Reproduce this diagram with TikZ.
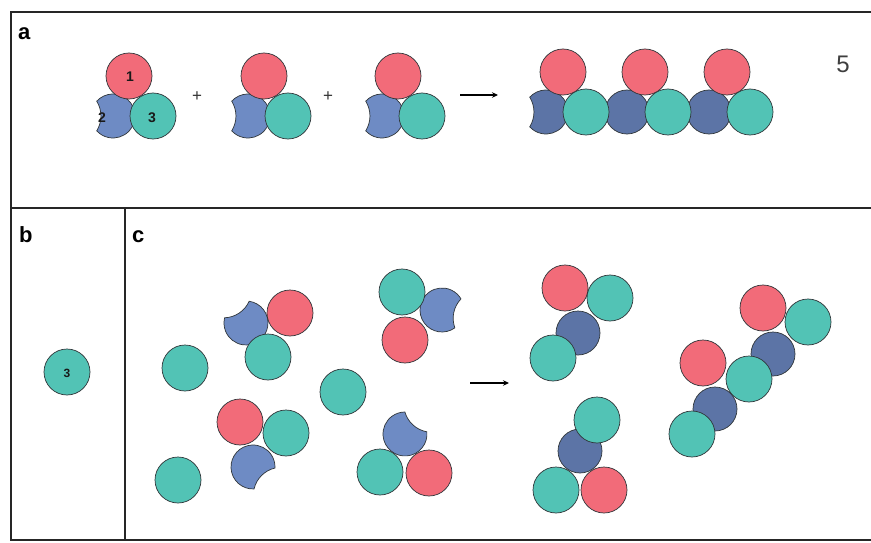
\documentclass[tikz,border=0pt]{standalone}
\usepackage{fontspec}
\setmainfont{Liberation Sans}
\usetikzlibrary{arrows.meta}

\definecolor{subred}{HTML}{F26B79}
\definecolor{subteal}{HTML}{52C3B5}
\definecolor{subblue}{HTML}{6E8BC4}
\definecolor{subbluedk}{HTML}{5C74A6}
\definecolor{rim}{HTML}{30363A}
\definecolor{framecol}{HTML}{262626}
\definecolor{numcol}{HTML}{3F3F3F}

\tikzset{
  sub/.style={draw=rim, line width=0.7pt},
  redsub/.style={sub, fill=subred},
  tealsub/.style={sub, fill=subteal},
  bluesub/.style={sub, fill=subblue},
  bluesubdk/.style={sub, fill=subbluedk},
  panelframe/.style={draw=framecol, line width=1.6pt},
  panellabel/.style={font=\fontsize{22}{22}\selectfont\bfseries, anchor=base west, inner sep=0pt},
  sublabel/.style={font=\fontsize{14}{14}\selectfont\bfseries, text=black!90, inner sep=0pt},
  plussign/.style={font=\fontsize{17}{17}\selectfont, text=black!80, inner sep=0pt},
  reactarrow/.style={draw=black, line width=1.3pt, -{Stealth[length=6pt,width=5.5pt]}},
}

% subunit 1 (red) and subunit 3 (teal): plain discs
\newcommand\redball[2]{\path[redsub] (#1,#2) circle[radius=23];}
\newcommand\tealball[2]{\path[tealsub] (#1,#2) circle[radius=23];}
% subunit 2 (blue): full disc, or disc with a bite facing direction #4
\newcommand\blueball[3][bluesub]{\path[#1] (#2,#3) circle[radius=22];}
\newcommand\bluecrescent[4][bluesub]{%
  \path[#1, shift={(#2,#3)}] (#4+42.3:22)
    arc[start angle=#4+42.3, end angle=#4+317.7, radius=22]
    arc[start angle=#4+211.9, end angle=#4+148.1, radius=28] -- cycle;}

\begin{document}
\begin{tikzpicture}[x=1pt, y=-1pt]
\useasboundingbox (0,0) rectangle (871,543);
\fill[white] (0,0) rectangle (871,543);

% ---- frame ----
\draw[panelframe] (871,12) -- (11,12) -- (11,540) -- (871,540);
\draw[panelframe] (11,208) -- (871,208);
\draw[panelframe] (125,208) -- (125,540);

\node[panellabel] (lbla) at (18,40) {a};
\node[panellabel] (lblb) at (19,242) {b};
\node[panellabel] (lblc) at (132,242) {c};

% ---- panel a: three trimers ----
\bluecrescent{113}{116}{180}
\tealball{153}{116}
\redball{129}{76}
\node[sublabel] (n1) at (130,77) {1};
\node[sublabel] (n2) at (102,118) {2};
\node[sublabel] (n3) at (152,118) {3};

\node[plussign] (plusA) at (197,97) {+};

\bluecrescent{248}{116}{180}
\tealball{288}{116}
\redball{264}{76}

\node[plussign] (plusB) at (328,97) {+};

\bluecrescent{382}{116}{180}
\tealball{422}{116}
\redball{398}{76}

\coordinate (arAs) at (460,95);
\coordinate (arAe) at (498,95);
\draw[reactarrow] (arAs) -- (arAe);

% assembled filament
\bluecrescent[bluesubdk]{546}{112}{180}
\blueball[bluesubdk]{627}{112}
\blueball[bluesubdk]{709}{112}
\tealball{586}{112}
\tealball{668}{112}
\tealball{750}{112}
\redball{563}{72}
\redball{645}{72}
\redball{727}{72}

\node[font=\fontsize{24}{24}\selectfont, text=numcol, inner sep=0pt] (fig5) at (843,64) {5};

% ---- panel b ----
\tealball{67}{372}
\node[sublabel, font=\fontsize{12}{12}\selectfont\bfseries] (nb3) at (67,373) {3};

% ---- panel c: free subunits and trimers ----
\tealball{185}{368}
\tealball{178}{480}
\tealball{343}{392}

\bluecrescent{246}{323}{236}
\tealball{268}{357}
\redball{290}{313}

\bluecrescent{253}{467}{45}
\tealball{286}{433}
\redball{240}{422}

\bluecrescent{442}{310}{12}
\tealball{402}{292}
\redball{405}{340}

\bluecrescent{405}{434}{-48}
\tealball{380}{472}
\redball{429}{473}

\coordinate (arCs) at (470,383);
\coordinate (arCe) at (509,383);
\draw[reactarrow] (arCs) -- (arCe);

% products
\blueball[bluesubdk]{578}{333}
\tealball{553}{358}
\tealball{610}{298}
\redball{565}{288}

\blueball[bluesubdk]{580}{451}
\tealball{597}{420}
\tealball{556}{490}
\redball{604}{490}

\blueball[bluesubdk]{773}{354}
\blueball[bluesubdk]{715}{409}
\tealball{808}{322}
\tealball{749}{379}
\tealball{692}{434}
\redball{763}{308}
\redball{703}{363}
\end{tikzpicture}
\end{document}
